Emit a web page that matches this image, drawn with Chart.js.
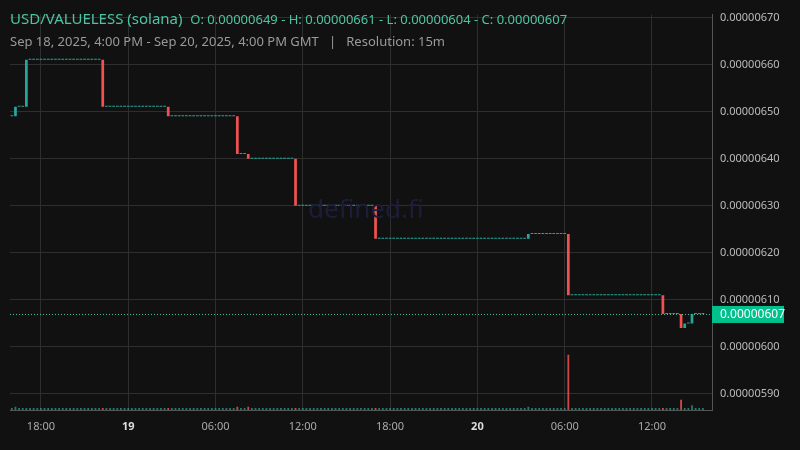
<!DOCTYPE html>
<html><head><meta charset="utf-8">
<script src="https://cdn.jsdelivr.net/npm/chart.js@4"></script>
<style>
html,body{margin:0;padding:0;background:#111111;}
#wrap{position:relative;width:800px;height:450px;font-family:"Noto Sans","Open Sans",sans-serif;}
#t1{position:absolute;left:10px;top:8px;font-size:15px;color:#4fc3a1;white-space:nowrap;}
#t1 span{font-size:13px;}
#t2{position:absolute;left:10px;top:32px;font-size:13px;color:#9a9a9a;white-space:nowrap;}
#wm{position:absolute;left:308px;top:190px;font-size:26px;color:#1d1d3a;}
</style></head><body>
<div id="wrap">
<canvas id="c" width="800" height="450"></canvas>
<div id="wm">defined.fi</div>
<div id="t1">USD/VALUELESS (solana) &nbsp;<span>O: 0.00000649 - H: 0.00000661 - L: 0.00000604 - C: 0.00000607</span></div>
<div id="t2">Sep 18, 2025, 4:00 PM - Sep 20, 2025, 4:00 PM GMT &nbsp; | &nbsp; Resolution: 15m</div>
</div>
<script>
// prices in units of 1e-8, one per 15m candle starting Sep 18 16:00
const firstOpen = 649;
const closes = [
649,649,651,651,651,661,
661,661,661,661,661,661,661,661,661,661,661,661,661,661,661,661,661,661,661,661,
651,651,651,651,651,651,651,651,651,651,651,651,651,651,651,651,651,651,
649,649,649,649,649,649,649,649,649,649,649,649,649,649,649,649,649,649,649,
641,641,641,640,
640,640,640,640,640,640,640,640,640,640,640,640,
630,630,630,630,630,630,630,630,630,630,630,630,630,630,630,630,630,630,630,630,630,630,
623,623,623,623,623,623,623,623,623,623,623,623,623,623,623,623,623,623,623,623,623,
623,623,623,623,623,623,623,623,623,623,623,623,623,623,623,623,623,623,623,623,623,
624,624,624,624,624,624,624,624,624,624,624,
611,611,611,611,611,611,611,611,611,611,611,611,611,611,611,611,611,611,611,611,611,611,611,611,611,611,
607,607,607,607,607,
604,605,605,607,607,607,607
];
const volumes = closes.map(()=>0.5);
const volumeSpikes = [[2,0.8],[63,0.8],[66,0.8],[143,0.8],[154,14],[185,2.6],[188,1.2]];
const tickIdx = [8,32,56,80,104,128,152,176];
const tickLabels = ["18:00","19","06:00","12:00","18:00","20","06:00","12:00"];
const yTicks = [590,600,610,620,630,640,650,660,670];
const lastPrice = 607;

const up='#26a69a', dn='#ef5350';
const opens = closes.map((c,i)=> i===0 ? firstOpen : closes[i-1]);
const colors = closes.map((c,i)=> c<opens[i]?dn:up);
volumeSpikes.forEach(([i,v])=>volumes[i]=v);
const candle = closes.map((c,i)=>({x:i-1,y:[opens[i]*1e-8,c*1e-8]}));
const vol = volumes.map((v,i)=>({x:i-1,y:v}));

const lastLine = {
  id:'lastLine',
  afterDatasetsDraw(ch){
    const y = ch.scales.y.getPixelForValue(lastPrice*1e-8), a=ch.chartArea, g=ch.ctx;
    g.save(); g.strokeStyle='#4fc3a1'; g.lineWidth=1; g.setLineDash([1,2]);
    g.beginPath(); g.moveTo(a.left,y+0.5); g.lineTo(a.right,y+0.5); g.stroke();
    g.setLineDash([]); g.fillStyle='#00c08b'; g.fillRect(a.right,y-8,72,17);
    g.fillStyle='#ffffff'; g.font='12px "Noto Sans"'; g.textBaseline='middle';
    g.fillText((lastPrice*1e-8).toFixed(8),a.right+8,y+1); g.restore();
  }
};

new Chart(document.getElementById('c'),{
  type:'bar',
  data:{datasets:[
    {data:candle,backgroundColor:colors,yAxisID:'y',minBarLength:1,barPercentage:0.75,categoryPercentage:1,grouped:false,order:1},
    {data:vol,backgroundColor:colors.map(c=>c===dn?'rgba(239,83,80,0.85)':'rgba(38,166,154,0.7)'),yAxisID:'v',barPercentage:0.5,categoryPercentage:1,grouped:false,order:2}
  ]},
  plugins:[lastLine],
  options:{
    responsive:false,animation:false,
    layout:{padding:{left:10,top:0,right:0,bottom:0}},
    plugins:{legend:{display:false},tooltip:{enabled:false}},
    scales:{
      x:{type:'linear',min:-0.5,max:192.5,offset:false,
        afterBuildTicks(s){s.ticks=tickIdx.map(v=>({value:v}));},
        afterFit(s){s.height=40;},
        grid:{color:'#2e2e2e',drawTicks:false,offset:false},border:{color:'#555'},
        ticks:{padding:10,maxRotation:0,autoSkip:false,
          callback:(v)=>tickLabels[tickIdx.indexOf(v)],
          color:(c)=>{const l=tickLabels[c.index];return (l==='19'||l==='20')?'#dddddd':'#aaaaaa';},
          font:(c)=>{const l=tickLabels[c.index];return {family:'Noto Sans',size:11,weight:(l==='19'||l==='20')?'bold':'normal'};}}},
      y:{position:'right',min:586.6e-8,max:670.6e-8,
        afterBuildTicks(s){s.ticks=yTicks.map(v=>({value:v*1e-8}));},
        afterFit(s){s.width=88;},
        grid:{color:'#2e2e2e',drawTicks:false},border:{color:'#555'},
        ticks:{padding:8,color:'#bbbbbb',font:{family:'Noto Sans',size:11},callback:v=>v.toFixed(8)}},
      v:{display:false,min:0,max:100}
    }
  }
});
</script>
</body></html>
